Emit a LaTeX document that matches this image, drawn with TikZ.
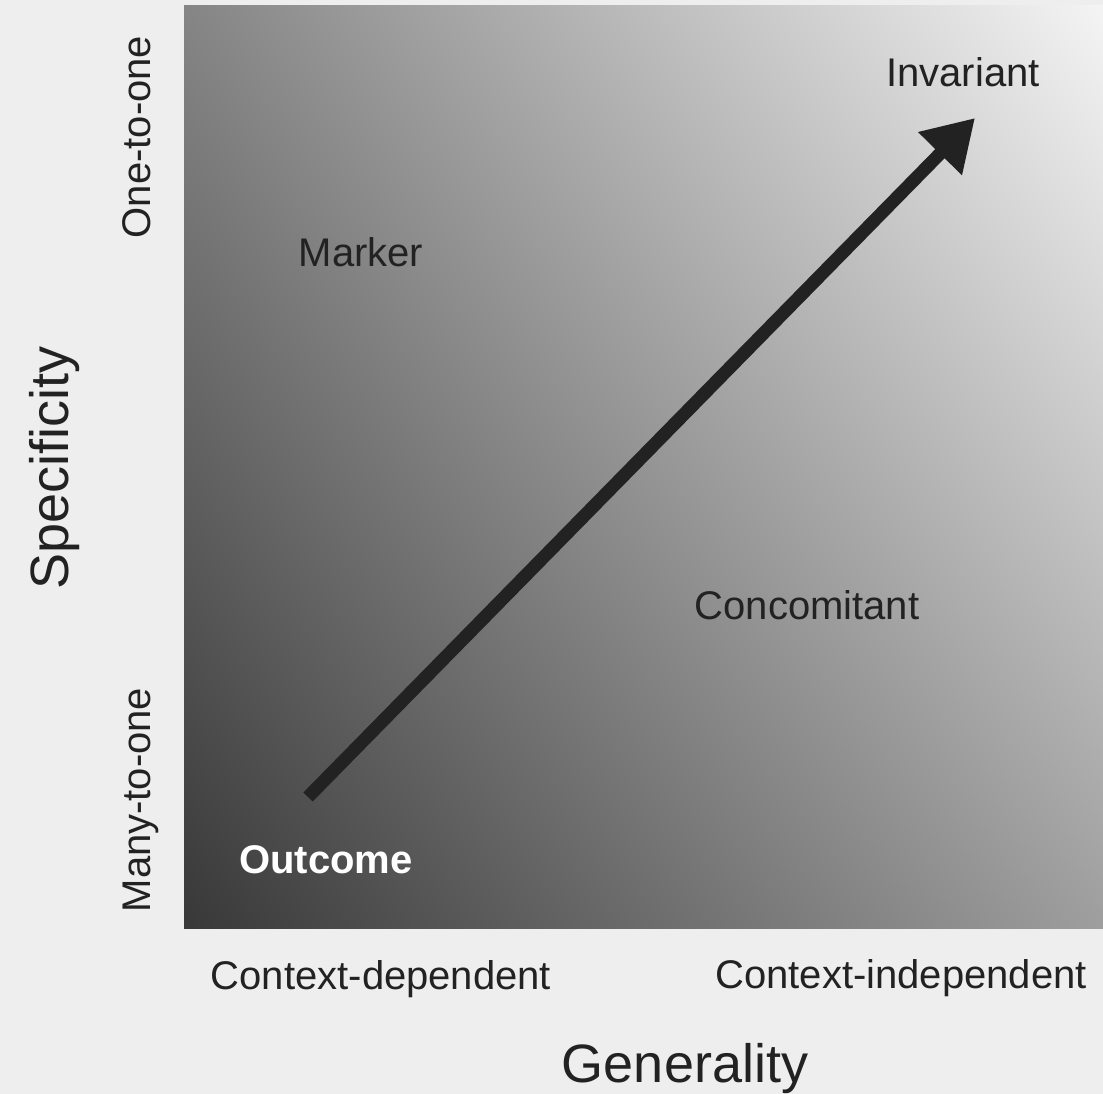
\documentclass[tikz,border=0pt]{standalone}
\usepackage{fontspec}
\setmainfont{Liberation Sans}
\usetikzlibrary{arrows.meta,shadings}
\definecolor{paper}{HTML}{EEEEEE}
\definecolor{ink}{HTML}{222222}
\definecolor{darkcorner}{HTML}{383838}
\definecolor{lightcorner}{HTML}{F4F4F4}
\definecolor{upleft}{HTML}{858585}
\definecolor{lowright}{HTML}{9E9E9E}
\begin{document}
\begin{tikzpicture}[x=1pt,y=-1pt,
  label40/.style={font=\fontsize{40}{48}\selectfont, text=ink, inner sep=0pt, anchor=base},
  axislabel/.style={font=\fontsize{54}{64}\selectfont, text=ink, inner sep=0pt, anchor=base},
  trend/.style={draw=ink, line width=13pt, -{Triangle[length=50pt,width=58pt]}}]
  % page
  \fill[paper] (0,0) rectangle (1103,1094);
  \useasboundingbox (0,0) rectangle (1103,1094);
  % shaded field
  \shade[lower left=darkcorner, upper left=upleft, lower right=lowright, upper right=lightcorner]
    (184,928) rectangle (1103,6);
  % region labels
  \node[label40] (marker) at (361,266) {Marker};
  \node[label40] (invariant) at (963,87) {Invariant};
  \node[label40] (concomitant) at (807,619) {Concomitant};
  \node[label40, text=white, font=\fontsize{40}{48}\selectfont\bfseries] (outcome) at (326,873) {Outcome};
  % horizontal axis
  \node[label40] (ctxdep) at (381,989) {Context-dependent};
  \node[label40] (ctxind) at (901,988) {Context-independent};
  \node[axislabel] (generality) at (685,1082) {Generality};
  % vertical axis
  \node[label40, rotate=90] (onetoone) at (150,137) {One-to-one};
  \node[label40, rotate=90] (manytoone) at (150,800) {Many-to-one};
  \node[axislabel, rotate=90] (specificity) at (68,468) {Specificity};
  % trend arrow
  \coordinate (tail) at (308,797);
  \coordinate (tip) at (975,118);
  \draw[trend] (tail) -- (tip);
\end{tikzpicture}
\end{document}
